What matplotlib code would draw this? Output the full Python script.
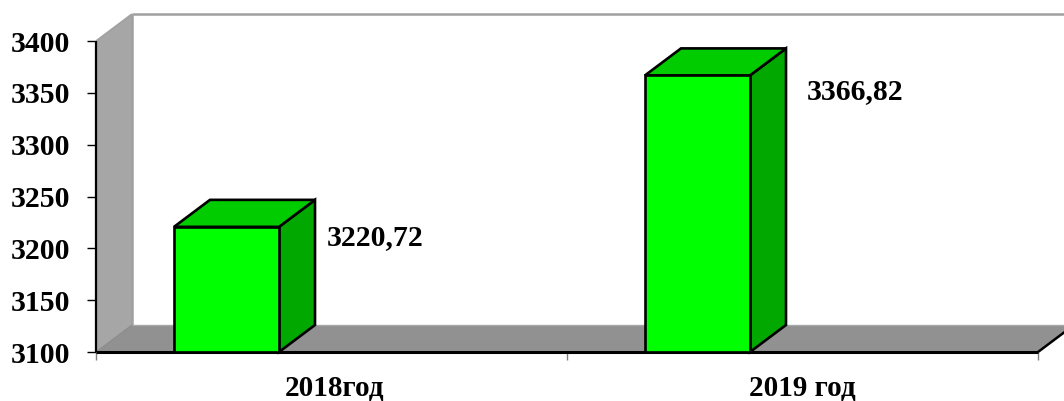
import matplotlib
matplotlib.use("Agg")
import matplotlib.pyplot as plt
from matplotlib.patches import Polygon
from matplotlib.transforms import ScaledTranslation

categories = ["2018год", "2019 год"]
values = [3220.72, 3366.82]
value_labels = ["3220,72", "3366,82"]
y_ticks = [3100, 3150, 3200, 3250, 3300, 3350, 3400]

W, H = 1064, 401
L, B, R, T = 96, 352, 1038, 41
dx_px, dy_px = 36, 27
cat_px = (R - L) / 2
y0, y1 = y_ticks[0], y_ticks[-1]
DX = dx_px / cat_px
DY = dy_px / (B - T) * (y1 - y0)
bar_off = 78 / cat_px
bar_w = 105 / cat_px
label_offsets_px = [(12, -11), (21, -16)]
cat_shift_px = [3, 0]

plt.rcParams["font.family"] = ["Liberation Serif", "DejaVu Serif"]
plt.rcParams["font.weight"] = "bold"
fig = plt.figure(figsize=(W / 100, H / 100), dpi=100)
ax = fig.add_axes([L / W, 1 - B / H, (R - L) / W, (B - T) / H])
ax.set_xlim(0, 2)
ax.set_ylim(y0, y1)
ax.patch.set_visible(False)
for s in ax.spines.values():
    s.set_visible(False)


def poly(pts, fc, ec="none", lw=0, z=1):
    ax.add_patch(Polygon(pts, closed=True, facecolor=fc, edgecolor=ec, linewidth=lw,
                         zorder=z, clip_on=False, joinstyle="miter"))


def line(xs, ys, c, lw, z=2):
    ax.plot(xs, ys, color=c, lw=lw, zorder=z, clip_on=False, solid_capstyle="butt")


# walls
poly([(0, y0), (DX, y0 + DY), (DX, y1 + DY), (0, y1)], "#A6A6A6")
poly([(0, y0), (2, y0), (2 + DX, y0 + DY), (DX, y0 + DY)], "#919191")
line([DX, DX], [y0 + DY, y1 + DY], "#A0A0A0", 1.8)
line([DX, 2 + DX], [y1 + DY, y1 + DY], "#A0A0A0", 1.8)
line([DX, 2 + DX], [y0 + DY, y0 + DY], "#A8A8A8", 1.0)
line([0, DX], [y1, y1 + DY], "#A0A0A0", 1.2)
line([0, DX], [y0, y0 + DY], "#8A8A8A", 0.8)
line([2, 2 + DX], [y0, y0 + DY], "#000000", 1.8)
line([0, 0], [y0, y1], "#000000", 1.6, z=3)
line([0, 2], [y0, y0], "#000000", 2.2, z=3)

# bars
for i, (v, lab) in enumerate(zip(values, value_labels)):
    x0 = i + bar_off
    x1 = x0 + bar_w
    poly([(x1, y0), (x1 + DX, y0 + DY), (x1 + DX, v + DY), (x1, v)], "#00A800", "black", 1.9, 4)
    poly([(x0, v), (x1, v), (x1 + DX, v + DY), (x0 + DX, v + DY)], "#00CC00", "black", 1.9, 4)
    poly([(x0, y0), (x1, y0), (x1, v), (x0, v)], "#00FF00", "black", 1.9, 5)
    ox, oy = label_offsets_px[i]
    ax.annotate(lab, (x1 + DX, v), xytext=(ox * 0.72, oy * 0.72), textcoords="offset points",
                fontsize=21.4, fontweight="bold", ha="left", va="center", color="black",
                annotation_clip=False)

ax.set_yticks(y_ticks)
ax.set_yticklabels([str(t) for t in y_ticks], fontsize=21.4, fontweight="bold")
ax.tick_params(axis="y", length=6.5, width=1, color="black", pad=12, labelcolor="black")
ax.set_xticks([0, 1, 2])
ax.set_xticklabels([])
ax.tick_params(axis="x", length=6, width=1, color="#808080")
ax.set_xticks([0.5, 1.5], minor=True)
ax.set_xticklabels(categories, minor=True, fontsize=21, fontweight="bold")
ax.tick_params(axis="x", which="minor", length=0, pad=16.5)
for t, s in zip(ax.get_xticklabels(minor=True), cat_shift_px):
    t.set_transform(t.get_transform() + ScaledTranslation(s / 100, 0, fig.dpi_scale_trans))

fig.savefig("out.png", dpi=100, facecolor="white")
